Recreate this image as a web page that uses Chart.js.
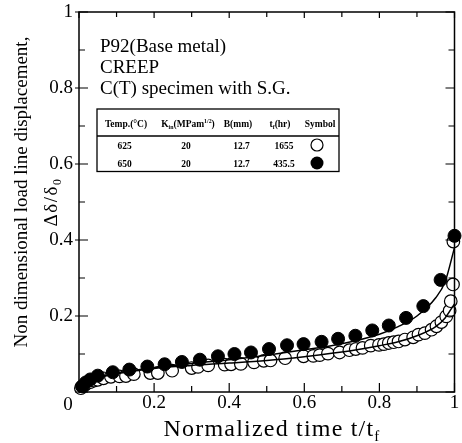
<!DOCTYPE html>
<html><head><meta charset="utf-8">
<script src="https://cdn.jsdelivr.net/npm/chart.js@4"></script>
<style>html,body{margin:0;padding:0;background:#fff}canvas{display:block}</style>
</head><body>
<canvas id="c" width="462" height="443"></canvas>
<script>
// ---- data ----
const open625T = [0.005,0.01,0.015,0.02,0.03,0.04,0.05,0.065,0.085,0.108,0.125,0.146,0.19,0.21,0.248,0.30,0.317,0.344,0.388,0.405,0.431,0.466,0.492,0.51,0.549,0.598,0.624,0.641,0.663,0.694,0.72,0.737,0.755,0.777,0.799,0.812,0.825,0.838,0.851,0.868,0.89,0.904,0.921,0.939,0.952,0.965,0.978,0.987,0.99,0.996,0.997];
const open625V = [0.01,0.015,0.018,0.022,0.026,0.03,0.032,0.036,0.04,0.041,0.042,0.047,0.05,0.05,0.056,0.063,0.066,0.07,0.072,0.073,0.074,0.078,0.082,0.083,0.089,0.094,0.095,0.097,0.101,0.104,0.11,0.113,0.116,0.122,0.124,0.126,0.129,0.131,0.133,0.138,0.144,0.151,0.155,0.164,0.173,0.184,0.199,0.214,0.239,0.283,0.396];
const filled650T = [0.008,0.018,0.03,0.05,0.09,0.134,0.182,0.228,0.274,0.322,0.37,0.414,0.458,0.506,0.554,0.598,0.646,0.69,0.736,0.781,0.825,0.871,0.917,0.963,1.0];
const filled650V = [0.015,0.025,0.033,0.043,0.052,0.059,0.067,0.073,0.079,0.085,0.094,0.100,0.104,0.113,0.123,0.126,0.132,0.14,0.148,0.162,0.175,0.195,0.226,0.295,0.411];
const fit650T = [0.02,0.05,0.1,0.2,0.3,0.4,0.5,0.6,0.7,0.8,0.85,0.9,0.95,0.975,1.0];
const fit650V = [0.02,0.037,0.05,0.064,0.075,0.085,0.097,0.111,0.127,0.152,0.172,0.2,0.248,0.29,0.38];
const fit625T = [0.02,0.05,0.1,0.2,0.3,0.4,0.5,0.6,0.7,0.8,0.85,0.9,0.95,0.975,1.0];
const fit625V = [0.02,0.036,0.048,0.062,0.07,0.076,0.083,0.093,0.105,0.122,0.132,0.148,0.172,0.195,0.232];

const xTickLabels = ['', '0.2', '0.4', '0.6', '0.8', '1'];
const yTickLabels = ['', '0.2', '0.4', '0.6', '0.8', '1'];
const minorTickValues = [0,0.1,0.2,0.3,0.4,0.5,0.6,0.7,0.8,0.9,1];
const row625 = ['625', '20', '12.7', '1655'];
const row650 = ['650', '20', '12.7', '435.5'];
const infoLines = ['P92(Base metal)', 'CREEP', 'C(T) specimen with S.G.'];

const SERIF = '"Liberation Serif", "DejaVu Serif", serif';
const pts = (T, V) => T.map((t, i) => ({x: t, y: V[i]}));

function rich(ctx, segs, x, y, size, bold, align, spacing) {
  const w = bold ? 'bold ' : '';
  ctx.letterSpacing = (spacing || 0) + 'px';
  let total = 0;
  for (const [t, m] of segs) {
    ctx.font = w + (m ? size * 0.62 : size) + 'px ' + SERIF;
    total += ctx.measureText(t).width;
  }
  let cx = align === 'center' ? x - total / 2 : (align === 'right' ? x - total : x);
  ctx.textAlign = 'left';
  for (const [t, m] of segs) {
    ctx.font = w + (m ? size * 0.62 : size) + 'px ' + SERIF;
    const dy = m === 1 ? size * 0.22 : (m === 2 ? -size * 0.38 : 0);
    ctx.fillText(t, cx, y + dy);
    cx += ctx.measureText(t).width;
  }
  ctx.letterSpacing = '0px';
}

const deco = {
  id: 'deco',
  afterDraw(chart) {
    const ctx = chart.ctx, a = chart.chartArea;
    const xs = chart.scales.x, ys = chart.scales.y;
    ctx.save();
    ctx.strokeStyle = '#000'; ctx.fillStyle = '#000';
    ctx.lineWidth = 1.5;
    ctx.strokeRect(a.left, a.top, a.right - a.left, a.bottom - a.top);
    ctx.lineWidth = 1.2;
    minorTickValues.forEach((v, i) => {
      const major = i % 2 === 0;
      const L = major ? 9 : 6;
      const px = xs.getPixelForValue(v), py = ys.getPixelForValue(v);
      ctx.beginPath();
      ctx.moveTo(px, a.bottom); ctx.lineTo(px, a.bottom - L);
      ctx.moveTo(px, a.top); ctx.lineTo(px, a.top + (major ? 6 : 5));
      ctx.moveTo(a.left - (major ? 4 : 0), py); ctx.lineTo(a.left + L, py);
      ctx.moveTo(a.right, py); ctx.lineTo(a.right - L, py);
      ctx.stroke();
    });
    // shared origin label
    ctx.font = '19px ' + SERIF; ctx.textAlign = 'center'; ctx.textBaseline = 'alphabetic';
    ctx.fillText('0', 68, 410);
    // info text
    ctx.textAlign = 'left';
    const base = [51.7, 72.7, 94];
    infoLines.forEach((s, i) => ctx.fillText(s, 100, base[i]));
    // table
    ctx.fillStyle = '#fff';
    ctx.fillRect(97, 109, 242, 62.5);
    ctx.fillStyle = '#000';
    ctx.lineWidth = 1.3;
    ctx.strokeRect(97, 109, 242, 62.5);
    ctx.beginPath(); ctx.moveTo(97, 136); ctx.lineTo(339, 136); ctx.stroke();
    const fs = 9.5;
    rich(ctx, [['Temp.(°C)',0]], 126, 127, fs, true, 'center');
    rich(ctx, [['K',0],['in',1],['(MPam',0],['1/2',2],[')',0]], 188, 127, fs, true, 'center');
    rich(ctx, [['B(mm)',0]], 238, 127, fs, true, 'center');
    rich(ctx, [['t',0],['f',1],['(hr)',0]], 280, 127, fs, true, 'center');
    rich(ctx, [['Symbol',0]], 320, 127, fs, true, 'center');
    const cols = [124.5, 186, 241.5, 284];
    row625.forEach((s, i) => rich(ctx, [[s,0]], cols[i], 148.5, fs, true, 'center'));
    row650.forEach((s, i) => rich(ctx, [[s,0]], cols[i], 166.5, fs, true, 'center'));
    ctx.lineWidth = 1.2;
    ctx.beginPath(); ctx.arc(317, 145, 6, 0, Math.PI * 2); ctx.stroke();
    ctx.beginPath(); ctx.arc(317, 163, 6.5, 0, Math.PI * 2); ctx.fill();
    // x title
    rich(ctx, [['Normalized time t/t',0],['f',1]], 272, 436, 24, false, 'center', 1.2);
    // y title
    ctx.save();
    ctx.translate(27, 192); ctx.rotate(-Math.PI / 2);
    rich(ctx, [['Non dimensional load line displacement,',0]], 0, 0, 19, false, 'center');
    ctx.restore();
    ctx.save();
    ctx.translate(57, 202); ctx.rotate(-Math.PI / 2);
    rich(ctx, [['Δδ/δ',0],['0',1]], 0, 0, 19, false, 'center', 1.5);
    ctx.restore();
    ctx.restore();
  }
};

new Chart(document.getElementById('c'), {
  type: 'scatter',
  data: {
    datasets: [
      {label: '625', data: pts(open625T, open625V), pointRadius: 6.3, pointBackgroundColor: '#fff', pointBorderColor: '#000', pointBorderWidth: 1.2, showLine: false, clip: false, order: 3},
      {label: '650', data: pts(filled650T, filled650V), pointRadius: 6.5, pointBackgroundColor: '#000', pointBorderColor: '#000', pointBorderWidth: 1, showLine: false, clip: false, order: 2},
      {label: 'fit650', data: pts(fit650T, fit650V), showLine: true, pointRadius: 0, borderColor: '#000', borderWidth: 1.5, cubicInterpolationMode: 'monotone', order: 1},
      {label: 'fit625', data: pts(fit625T, fit625V), showLine: true, pointRadius: 0, borderColor: '#000', borderWidth: 1.5, cubicInterpolationMode: 'monotone', order: 0}
    ]
  },
  options: {
    responsive: false, animation: false,
    layout: {padding: {top: 12, right: 2, left: 0, bottom: 0}},
    plugins: {legend: {display: false}, tooltip: {enabled: false}},
    scales: {
      x: {
        type: 'linear', min: 0, max: 1,
        grid: {display: false, drawTicks: false}, border: {display: false},
        ticks: {stepSize: 0.2, padding: 0, color: '#000', font: {family: SERIF, size: 19}, maxRotation: 0,
          callback: (v, i) => xTickLabels[i]},
        afterFit: s => { s.height = 51; s.paddingLeft = 0; s.paddingRight = 0; }
      },
      y: {
        type: 'linear', min: 0, max: 1,
        grid: {display: false, drawTicks: false}, border: {display: false},
        ticks: {stepSize: 0.2, padding: 6, color: '#000', font: {family: SERIF, size: 19},
          callback: (v, i) => yTickLabels[i]},
        afterFit: s => { s.width = 79; s.paddingTop = 0; s.paddingBottom = 0; }
      }
    }
  },
  plugins: [deco]
});
</script>
</body></html>
